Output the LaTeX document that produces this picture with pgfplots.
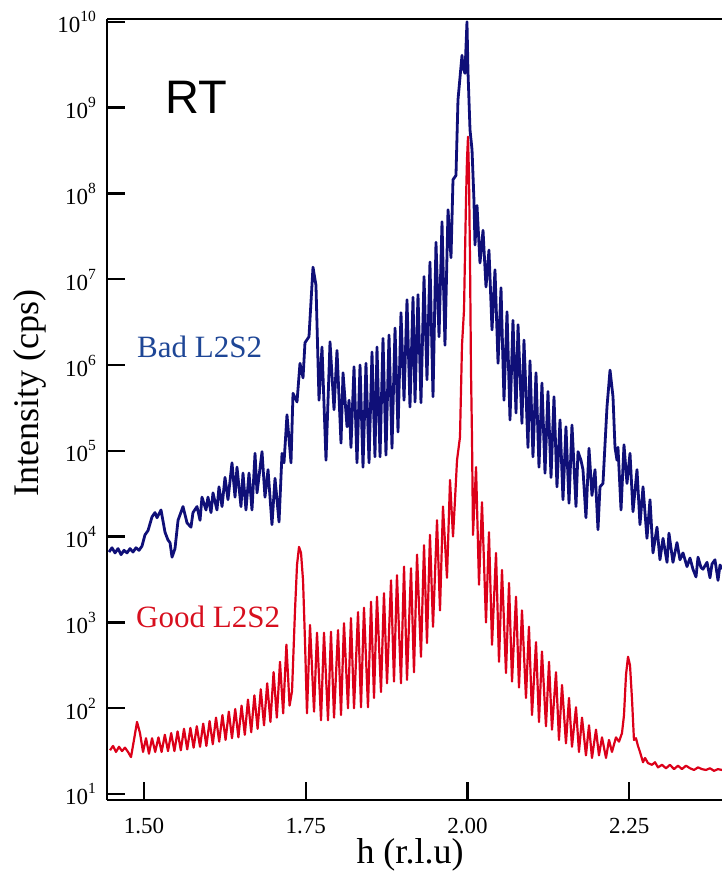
\documentclass[border=0pt]{standalone}
\usepackage{pgfplots}
\pgfplotsset{compat=1.18}
\usepackage{pgfplotstable}
\usepackage{fontspec}
\setmainfont{Liberation Serif}
\newfontfamily\arialfont{Liberation Sans}
\definecolor{badblue}{RGB}{15,15,120}
\definecolor{badtext}{RGB}{30,70,150}
\definecolor{goodred}{RGB}{220,0,25}
\definecolor{goodtext}{RGB}{215,15,30}
\newcommand{\tp}[1]{10\raisebox{11pt}{\fontsize{15.5}{15.5}\selectfont #1}}

% h (r.l.u) and lg = log10(intensity / cps)
\pgfplotstableread{
h lg
1.4459 3.82
1.4505 3.87
1.4552 3.81
1.4598 3.86
1.4645 3.79
1.4691 3.84
1.4737 3.81
1.4784 3.86
1.4830 3.82
1.4876 3.87
1.4923 3.84
1.4969 3.89
1.5015 4.02
1.5062 4.07
1.5124 4.23
1.5170 4.28
1.5201 4.22
1.5263 4.31
1.5325 4.05
1.5371 3.96
1.5402 3.93
1.5433 3.76
1.5479 3.86
1.5526 4.19
1.5603 4.35
1.5665 4.16
1.5726 4.11
1.5757 4.28
1.5819 4.35
1.5866 4.19
1.5896 4.46
1.5958 4.31
1.5989 4.46
1.6036 4.28
1.6066 4.51
1.6128 4.31
1.6159 4.58
1.6206 4.35
1.6252 4.69
1.6298 4.43
1.6360 4.86
1.6407 4.46
1.6437 4.81
1.6499 4.35
1.6530 4.74
1.6576 4.31
1.6623 4.74
1.6669 4.31
1.6716 4.97
1.6747 4.51
1.6824 4.99
1.6870 4.46
1.6917 4.78
1.6978 4.14
1.7025 4.68
1.7087 4.17
1.7133 4.97
1.7164 4.86
1.7210 5.42
1.7272 4.86
1.7303 5.67
1.7365 5.57
1.7411 6.02
1.7458 5.85
1.7488 6.26
1.7550 6.33
1.7612 7.14
1.7658 6.93
1.7705 5.59
1.7751 6.21
1.7813 4.89
1.7875 6.27
1.7937 5.48
1.7983 6.17
1.8045 5.09
1.8076 5.91
1.8138 5.28
1.8169 5.59
1.8199 5.04
1.8246 5.98
1.8292 4.86
1.8339 6.00
1.8385 4.81
1.8431 6.02
1.8478 4.86
1.8524 6.15
1.8570 4.93
1.8601 6.21
1.8648 4.93
1.8694 6.31
1.8740 4.95
1.8787 6.35
1.8833 5.03
1.8880 6.43
1.8926 5.22
1.8972 6.61
1.9019 5.59
1.9065 6.76
1.9111 5.51
1.9158 6.79
1.9189 5.57
1.9235 6.82
1.9281 5.56
1.9328 7.03
1.9374 5.83
1.9420 7.20
1.9467 5.63
1.9513 7.43
1.9560 6.33
1.9606 7.67
1.9652 6.23
1.9699 7.81
1.9745 7.25
1.9776 8.16
1.9822 8.21
1.9853 9.09
1.9915 9.61
1.9931 9.47
1.9961 9.40
1.9992 10.00
2.0008 9.41
2.0039 8.74
2.0070 8.51
2.0100 7.92
2.0116 7.40
2.0147 7.86
2.0193 7.19
2.0240 7.57
2.0286 6.91
2.0332 7.34
2.0379 6.41
2.0425 7.11
2.0472 6.02
2.0518 6.90
2.0564 5.59
2.0611 6.62
2.0657 5.36
2.0703 6.52
2.0750 5.44
2.0781 6.47
2.0842 5.32
2.0873 6.29
2.0935 5.04
2.0966 6.05
2.1012 4.93
2.1059 5.91
2.1105 4.81
2.1151 5.79
2.1198 4.74
2.1244 5.69
2.1291 4.69
2.1337 5.63
2.1383 4.58
2.1430 5.36
2.1476 4.43
2.1522 5.28
2.1569 4.39
2.1615 5.30
2.1677 4.35
2.1708 4.99
2.1754 4.89
2.1785 4.78
2.1831 4.22
2.1878 5.03
2.1924 4.48
2.1971 4.78
2.2017 4.08
2.2048 4.58
2.2094 4.62
2.2156 5.51
2.2203 5.94
2.2249 5.63
2.2280 5.04
2.2311 4.89
2.2326 5.04
2.2373 4.31
2.2419 5.07
2.2465 4.62
2.2512 4.97
2.2558 4.29
2.2620 4.78
2.2666 4.14
2.2713 4.58
2.2774 3.98
2.2821 4.43
2.2867 3.81
2.2929 4.11
2.2975 3.73
2.3022 3.98
2.3084 3.70
2.3114 4.04
2.3176 3.70
2.3238 3.93
2.3284 3.73
2.3331 3.81
2.3393 3.65
2.3439 3.75
2.3485 3.62
2.3532 3.53
2.3563 3.76
2.3609 3.64
2.3640 3.62
2.3702 3.70
2.3748 3.52
2.3779 3.68
2.3825 3.73
2.3872 3.49
2.3903 3.67
2.3934 3.62
}\badtable

\pgfplotstableread{
h lg
1.4475 1.51
1.4521 1.56
1.4567 1.49
1.4614 1.55
1.4660 1.50
1.4706 1.54
1.4753 1.49
1.4799 1.43
1.4845 1.63
1.4892 1.84
1.4938 1.71
1.4985 1.49
1.5031 1.65
1.5077 1.47
1.5124 1.65
1.5173 1.49
1.5223 1.66
1.5272 1.49
1.5322 1.69
1.5371 1.50
1.5420 1.71
1.5470 1.50
1.5519 1.73
1.5569 1.51
1.5618 1.76
1.5668 1.52
1.5717 1.77
1.5767 1.54
1.5816 1.79
1.5866 1.55
1.5915 1.82
1.5964 1.56
1.6014 1.85
1.6063 1.58
1.6113 1.89
1.6162 1.61
1.6212 1.92
1.6261 1.63
1.6311 1.96
1.6360 1.65
1.6410 1.99
1.6459 1.66
1.6508 2.03
1.6558 1.69
1.6607 2.10
1.6657 1.72
1.6706 2.15
1.6756 1.76
1.6805 2.22
1.6855 1.80
1.6904 2.29
1.6954 1.84
1.7003 2.42
1.7053 1.89
1.7102 2.54
1.7151 1.94
1.7201 2.74
1.7250 2.03
1.7288 2.20
1.7334 3.14
1.7365 3.67
1.7396 3.88
1.7427 3.81
1.7458 3.49
1.7488 2.79
1.7519 1.94
1.7566 2.97
1.7628 1.96
1.7674 2.88
1.7736 1.86
1.7782 2.88
1.7844 1.86
1.7890 2.89
1.7937 1.89
1.7999 2.91
1.8045 1.92
1.8091 2.99
1.8153 2.00
1.8199 3.05
1.8246 2.00
1.8308 3.12
1.8354 2.01
1.8400 3.17
1.8462 2.01
1.8509 3.24
1.8555 2.12
1.8601 3.30
1.8663 2.19
1.8709 3.34
1.8756 2.29
1.8818 3.49
1.8864 2.31
1.8910 3.55
1.8972 2.29
1.9019 3.65
1.9065 2.33
1.9127 3.63
1.9173 2.42
1.9220 3.79
1.9281 2.60
1.9328 3.90
1.9374 2.76
1.9420 4.02
1.9467 2.95
1.9529 4.19
1.9575 3.14
1.9621 4.35
1.9683 3.52
1.9730 4.66
1.9776 4.00
1.9807 4.43
1.9838 4.89
1.9884 5.16
1.9915 6.23
1.9946 6.64
1.9977 7.92
1.9992 8.39
2.0008 8.66
2.0023 8.21
2.0039 7.22
2.0054 5.94
2.0070 5.13
2.0085 4.02
2.0132 4.81
2.0178 3.44
2.0224 4.40
2.0286 3.00
2.0332 4.05
2.0379 2.74
2.0441 3.81
2.0487 2.54
2.0533 3.61
2.0595 2.41
2.0642 3.46
2.0688 2.31
2.0750 3.30
2.0796 2.24
2.0842 3.14
2.0904 2.12
2.0950 2.95
2.0997 1.92
2.1059 2.77
2.1105 1.84
2.1151 2.66
2.1213 1.79
2.1260 2.54
2.1306 1.75
2.1368 2.42
2.1414 1.63
2.1461 2.27
2.1522 1.59
2.1569 2.12
2.1615 1.55
2.1677 2.01
2.1723 1.49
2.1770 1.89
2.1831 1.45
2.1878 1.80
2.1924 1.42
2.1986 1.75
2.2032 1.45
2.2079 1.66
2.2141 1.42
2.2187 1.63
2.2233 1.49
2.2295 1.66
2.2342 1.61
2.2388 1.71
2.2419 1.92
2.2450 2.39
2.2481 2.60
2.2512 2.50
2.2543 2.10
2.2573 1.63
2.2604 1.65
2.2635 1.56
2.2666 1.49
2.2713 1.37
2.2744 1.42
2.2790 1.36
2.2852 1.34
2.2898 1.37
2.2945 1.31
2.3006 1.34
2.3068 1.30
2.3130 1.34
2.3192 1.29
2.3254 1.33
2.3315 1.29
2.3377 1.33
2.3439 1.30
2.3501 1.28
2.3563 1.31
2.3624 1.29
2.3686 1.28
2.3748 1.30
2.3810 1.27
2.3872 1.29
2.3934 1.28
}\goodtable

\begin{document}
\begin{tikzpicture}
\useasboundingbox (-107pt,-73pt) rectangle (615pt,800pt);
\begin{axis}[
  at={(0pt,0pt)}, anchor=south west,
  width=615pt, height=781pt, scale only axis,
  xmin=1.4428, xmax=2.3934,
  ymode=log, ymin=8.51, ymax=1.079e10,
  axis x line*=box, axis y line*=left,
  xtick={1.5,1.75,2.0,2.25},
  xticklabels={1.50,1.75,2.00,2.25},
  xtick pos=left,
  ytick={10,100,1000,1e4,1e5,1e6,1e7,1e8,1e9,1e10},
  yticklabels={\tp{1},\tp{2},\tp{3},\tp{4},\tp{5},\tp{6},\tp{7},\tp{8},\tp{9},\tp{10}},
  yminorticks=false, xminorticks=false,
  tick align=inside,
  major tick length=18pt,
  tick style={line width=2.4pt, black},
  axis line style={line width=2.8pt, black},
  xticklabel style={font=\fontsize{23}{25}\selectfont, inner sep=0pt, anchor=base, yshift=-33pt},
  yticklabel style={font=\fontsize{23}{25}\selectfont, inner sep=0pt, anchor=base east, xshift=-11pt, yshift=-11pt},
  xlabel={h (r.l.u)},
  ylabel={Intensity (cps)},
  xlabel style={font=\fontsize{36}{40}\selectfont, at={(axis description cs:0.4927,-0.0704)}, anchor=center},
  ylabel style={font=\fontsize{36}{40}\selectfont, at={(axis description cs:-0.125,0.521)}, anchor=center},
  clip=true,
]
\addplot[badblue, line width=2.8pt, line join=round, no markers] table[x=h, y expr={10^\thisrow{lg}}] {\badtable};
\addplot[goodred, line width=2.2pt, line join=round, no markers] table[x=h, y expr={10^\thisrow{lg}}] {\goodtable};
\node[anchor=base west, inner sep=0pt, font=\arialfont\fontsize{47}{50}\selectfont] at (axis description cs:0.0943,0.8796) {RT};
\node[anchor=base west, inner sep=0pt, text=badtext, font=\fontsize{31}{33}\selectfont] at (axis description cs:0.0488,0.5672) {Bad L2S2};
\node[anchor=base west, inner sep=0pt, text=goodtext, font=\fontsize{31}{33}\selectfont] at (axis description cs:0.0472,0.2215) {Good L2S2};
\end{axis}
\end{tikzpicture}
\end{document}
